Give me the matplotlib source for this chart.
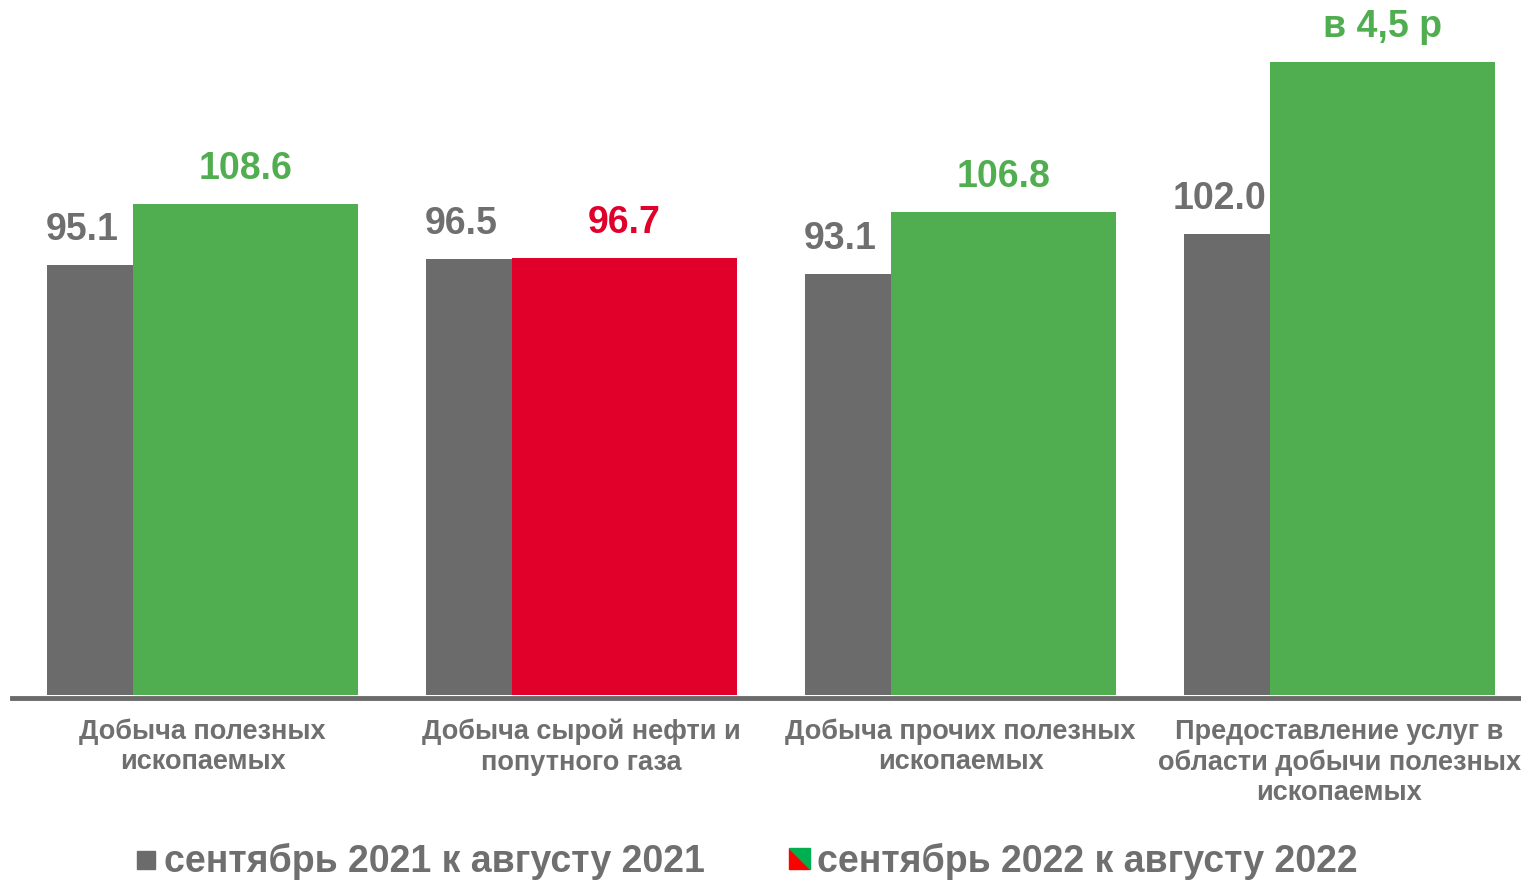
import numpy as np
import matplotlib
matplotlib.use("Agg")
import matplotlib.pyplot as plt
from matplotlib.patches import Rectangle, Polygon

plt.rcParams['font.family'] = ['Liberation Sans', 'DejaVu Sans']

# DATA
categories = ["Добыча полезных\nископаемых",
              "Добыча сырой нефти и\nпопутного газа",
              "Добыча прочих полезных\nископаемых",
              "Предоставление услуг в\nобласти добычи полезных\nископаемых"]
vals2021 = [95.1, 96.5, 93.1, 102.0]
vals2022 = [108.6, 96.7, 106.8, 140.0]   # last bar is drawn capped, labelled "в 4,5 р"
labels2021 = ["95.1", "96.5", "93.1", "102.0"]
labels2022 = ["108.6", "96.7", "106.8", "в 4,5 р"]
legend_labels = ["сентябрь 2021 к августу 2021", "сентябрь 2022 к августу 2022"]

GRAY = "#6b6b6b"
GREEN = "#50ae50"
RED = "#e0002a"
TEXT = "#6f6f6f"

W, H = 1521, 880
fig = plt.figure(figsize=(W/100, H/100), dpi=100)
ax = fig.add_axes([12/W, 185/H, (W-12)/W, 695/H])

x = np.arange(len(categories))
wg = 86/379
wc = 225/379
offg = -112.5/379
offc = 43/379

colors22 = [GREEN if v >= 100 else RED for v in vals2022]
ax.bar(x + offg, vals2021, width=wg, color=GRAY, zorder=2)
ax.bar(x + offc, vals2022, width=wc, color=colors22, zorder=2)

for i in range(len(x)):
    ax.annotate(labels2021[i], (x[i] + offg - 0.02, vals2021[i]), xytext=(0, 17),
                textcoords="offset pixels", ha="center", va="bottom",
                fontsize=27, fontweight="bold", color=TEXT)
    ax.annotate(labels2022[i], (x[i] + offc, vals2022[i]), xytext=(0, 17),
                textcoords="offset pixels", ha="center", va="bottom",
                fontsize=27, fontweight="bold", color=colors22[i])

ax.set_xlim(-190.5/379, (W - 202.5)/379)
ax.set_ylim(0, 695/4.52)
for s in ["top", "right", "left"]:
    ax.spines[s].set_visible(False)
ax.spines["bottom"].set_color(GRAY)
ax.spines["bottom"].set_linewidth(3.5)
ax.spines["bottom"].set_position(("outward", 2))
ax.set_yticks([])
ax.set_xticks(x)
ax.set_xticklabels(categories, fontsize=19.5, fontweight="bold", color=TEXT,
                   linespacing=1.22, va="top")
ax.tick_params(axis="x", length=0, pad=15)

# legend
def px(xp, yp):
    return (xp / W, 1 - yp / H)

fig.patches.append(Rectangle(px(137, 869), 18/W, 18/H, transform=fig.transFigure,
                             color=GRAY, figure=fig))
fig.text(*px(164, 861), legend_labels[0], fontsize=27, fontweight="bold",
         color=TEXT, va="center", ha="left")
fig.patches.append(Polygon([px(789, 848), px(789, 869), px(810, 869)],
                           transform=fig.transFigure, color="#ff0000", figure=fig))
fig.patches.append(Polygon([px(789, 848), px(810, 848), px(810, 869)],
                           transform=fig.transFigure, color="#00b050", figure=fig))
fig.text(*px(817, 861), legend_labels[1], fontsize=27, fontweight="bold",
         color=TEXT, va="center", ha="left")

fig.savefig("out.png", dpi=100)
